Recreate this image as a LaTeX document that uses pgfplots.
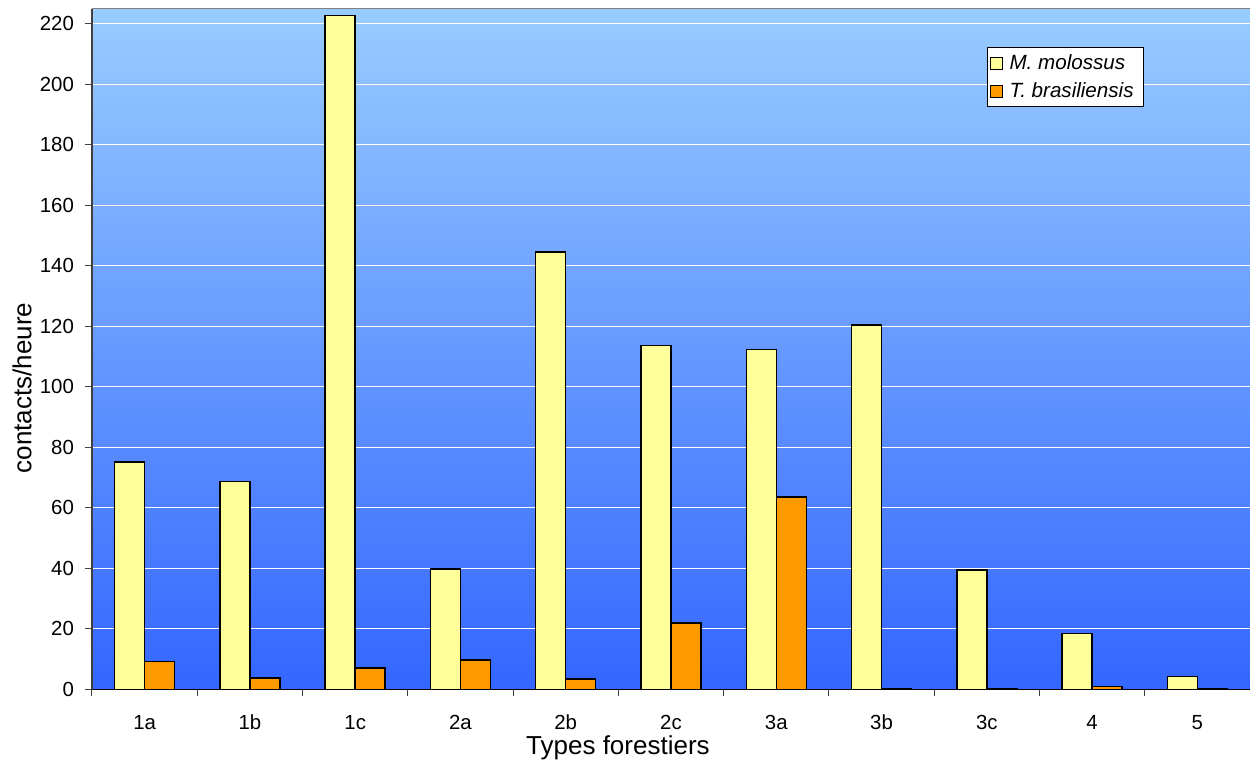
\documentclass[border=0pt]{standalone}
\usepackage{fontspec}
\setmainfont{Liberation Sans}
\usepackage{pgfplots}
\pgfplotsset{compat=1.18}

\definecolor{barYellow}{RGB}{255,255,153}
\definecolor{barOrange}{RGB}{255,153,0}
\definecolor{bgTop}{RGB}{153,204,255}
\definecolor{bgBottom}{RGB}{51,102,255}

\begin{document}
\begin{tikzpicture}
\useasboundingbox (-46pt,-38.85pt) rectangle (579pt,344.65pt);
\begin{axis}[
  scale only axis,
  width=579pt, height=340.3pt,
  xmin=-0.5, xmax=10.5, ymin=0, ymax=225,
  ybar=0pt, bar width=0.285,
  axis background/.style={top color=bgTop, bottom color=bgBottom},
  axis x line*=bottom, axis y line*=left,
  x axis line style={black, line width=0.6pt},
  y axis line style={black!75, line width=0.6pt},
  xtick={0,...,10},
  xticklabels={1a,1b,1c,2a,2b,2c,3a,3b,3c,4,5},
  minor xtick={-0.5,0.5,...,10.5},
  ytick={0,20,...,220},
  tick align=outside,
  major tick length=3.5pt, minor tick length=3.5pt,
  major x tick style={draw=none},
  minor x tick style={draw=black!75, line width=0.5pt},
  ytick style={draw=black!75, line width=0.5pt},
  ymajorgrids,
  major grid style={white, line width=0.6pt},
  /pgf/number format/assume math mode=true,
  ticklabel style={font=\fontsize{10.2}{12}\selectfont},
  xticklabel style={text height=7.5pt, text depth=0pt, yshift=-5.5pt},
  yticklabel style={xshift=-2pt},
  xlabel={Types forestiers},
  ylabel={contacts/heure},
  label style={font=\fontsize{13}{15}\selectfont},
  xlabel style={at={(axis description cs:0.4542,-0.0862)}, anchor=center},
  ylabel style={at={(axis description cs:-0.0604,0.4427)}, anchor=center, rotate=0},
  legend style={at={(0.7726,0.9433)}, anchor=north west, draw=black, fill=white,
    line width=0.5pt, font=\fontsize{10.3}{12.4}\selectfont\itshape,
    inner xsep=1.5pt, inner ysep=1.2pt, row sep=1.2pt,
    nodes={inner xsep=3.2pt}},
  legend cell align=left,
  legend image code/.code={\draw[#1, line width=0.5pt] (0pt,-3pt) rectangle (6pt,3pt);},
]
\addplot[draw=black, line width=0.7pt, fill=barYellow] coordinates {
  (0,75.2) (1,68.6) (2,222.7) (3,39.8) (4,144.6) (5,113.6)
  (6,112.3) (7,120.5) (8,39.5) (9,18.4) (10,4.2)};
\addlegendentry{M. molossus}
\addplot[draw=black, line width=0.7pt, fill=barOrange] coordinates {
  (0,9.1) (1,3.8) (2,7.1) (3,9.7) (4,3.4) (5,21.9)
  (6,63.6) (7,0.3) (8,0.2) (9,1.0) (10,0.2)};
\addlegendentry{T. brasiliensis}
\draw[black!50, line width=0.6pt] (rel axis cs:0,1) -- (rel axis cs:1,1);
\end{axis}
\end{tikzpicture}
\end{document}
